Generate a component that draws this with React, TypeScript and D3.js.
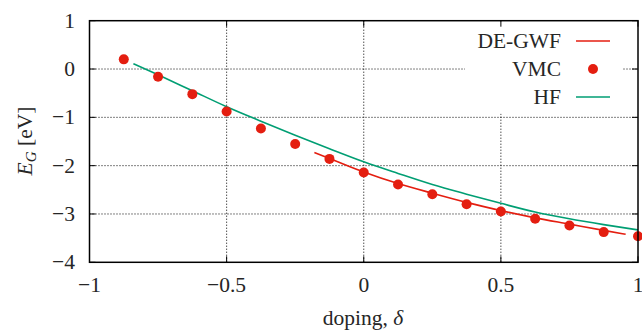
import React from "react";
import * as d3 from "d3";

const vmcX = [-0.875, -0.75, -0.625, -0.5, -0.375, -0.25, -0.125, 0, 0.125, 0.25, 0.375, 0.5, 0.625, 0.75, 0.875, 1.0];
const vmcY = [0.2, -0.16, -0.52, -0.88, -1.23, -1.55, -1.86, -2.14, -2.39, -2.59, -2.8, -2.95, -3.1, -3.24, -3.375, -3.46];

const degwfX = [-0.18, -0.125, 0, 0.125, 0.25, 0.375, 0.5, 0.625, 0.75, 0.875, 0.955];
const degwfY = [-1.73, -1.85, -2.13, -2.37, -2.57, -2.76, -2.93, -3.08, -3.21, -3.34, -3.42];

const hfX = [-0.84, -0.75, -0.625, -0.5, -0.375, -0.25, -0.125, 0, 0.125, 0.25, 0.375, 0.5, 0.625, 0.75, 0.875, 1.0];
const hfY = [0.11, -0.12, -0.45, -0.78, -1.08, -1.37, -1.65, -1.92, -2.16, -2.39, -2.59, -2.78, -2.96, -3.1, -3.22, -3.33];

const xTicks = [-1, -0.5, 0, 0.5, 1];
const xTickLabels = ["−1", "−0.5", "0", "0.5", "1"];
const yTicks = [1, 0, -1, -2, -3, -4];
const yTickLabels = ["1", "0", "−1", "−2", "−3", "−4"];
const xGrid = [-0.5, 0, 0.5];
const yGrid = [0, -1, -2, -3];

const legendItems = ["DE-GWF", "VMC", "HF"];

const RED = "#e41e10";
const GREEN = "#009e73";
const TEXT = "#262626";
const FONT = "'Liberation Serif', 'Times New Roman', serif";
const FS = 21.5;

export default function App() {
  const W = 642, H = 331;
  const L = 89.5, R = 638, T = 20.7, B = 262.3;
  const x = d3.scaleLinear().domain([-1, 1]).range([L, R]);
  const y = d3.scaleLinear().domain([-4, 1]).range([B, T]);

  const line = d3.line<[number, number]>().x(d => x(d[0])).y(d => y(d[1])).curve(d3.curveMonotoneX);
  const degwf = line(degwfX.map((v, i) => [v, degwfY[i]] as [number, number])) || "";
  const hf = line(hfX.map((v, i) => [v, hfY[i]] as [number, number])) || "";

  const legX = 561, legLine0 = 576, legLine1 = 610;
  const legYs = [41, 69, 97];

  return (
    <svg width={W} height={H} style={{ position: "absolute", left: 0, top: 0 }} fontFamily={FONT}>
      <rect x={0} y={0} width={W} height={H} fill="#fff" />
      {xGrid.map((g, i) => (
        <line key={"xg" + i} x1={x(g)} x2={x(g)} y1={T} y2={B} stroke="#000" strokeWidth={1} strokeDasharray="1,2" />
      ))}
      {yGrid.map((g, i) => (
        <line key={"yg" + i} x1={L} x2={R} y1={y(g)} y2={y(g)} stroke="#000" strokeWidth={1} strokeDasharray="1,2" />
      ))}
      {/* legend background */}
      <rect x={465} y={T + 1} width={158} height={92} fill="#fff" />
      {/* ticks */}
      {xTicks.map((t, i) => (
        <g key={"xt" + i}>
          <line x1={x(t)} x2={x(t)} y1={B} y2={B - 6} stroke="#000" strokeWidth={1} />
          <line x1={x(t)} x2={x(t)} y1={T} y2={T + 6} stroke="#000" strokeWidth={1} />
          <text x={x(t)} y={292} textAnchor="middle" fontSize={FS} fill={TEXT}>{xTickLabels[i]}</text>
        </g>
      ))}
      {yTicks.map((t, i) => (
        <g key={"yt" + i}>
          <line x1={L} x2={L + 6} y1={y(t)} y2={y(t)} stroke="#000" strokeWidth={1} />
          <line x1={R} x2={R - 6} y1={y(t)} y2={y(t)} stroke="#000" strokeWidth={1} />
          <text x={75} y={y(t) + 7} textAnchor="end" fontSize={FS} fill={TEXT}>{yTickLabels[i]}</text>
        </g>
      ))}
      <path d={hf} fill="none" stroke={GREEN} strokeWidth={1.6} />
      <path d={degwf} fill="none" stroke={RED} strokeWidth={1.6} />
      {vmcX.map((v, i) => (
        <circle key={"p" + i} cx={x(v)} cy={y(vmcY[i])} r={5} fill={RED} />
      ))}
      <rect x={L} y={T} width={R - L} height={B - T} fill="none" stroke="#000" strokeWidth={1.5} />
      {/* legend */}
      {legendItems.map((s, i) => (
        <text key={"lt" + i} x={legX} y={legYs[i] + 7} textAnchor="end" fontSize={FS} fill={TEXT}>{s}</text>
      ))}
      <line x1={legLine0} x2={legLine1} y1={legYs[0]} y2={legYs[0]} stroke={RED} strokeWidth={1.6} />
      <circle cx={(legLine0 + legLine1) / 2} cy={legYs[1]} r={5} fill={RED} />
      <line x1={legLine0} x2={legLine1} y1={legYs[2]} y2={legYs[2]} stroke={GREEN} strokeWidth={1.6} />
      {/* axis labels */}
      <text x={363} y={325} textAnchor="middle" fontSize={FS} fill={TEXT}>doping, <tspan fontStyle="italic">δ</tspan></text>
      <text transform="translate(32,141) rotate(-90)" textAnchor="middle" fontSize={FS} fill={TEXT}>
        <tspan fontStyle="italic">E</tspan><tspan fontStyle="italic" fontSize={15} dy={4}>G</tspan><tspan dy={-4}> [eV]</tspan>
      </text>
    </svg>
  );
}
